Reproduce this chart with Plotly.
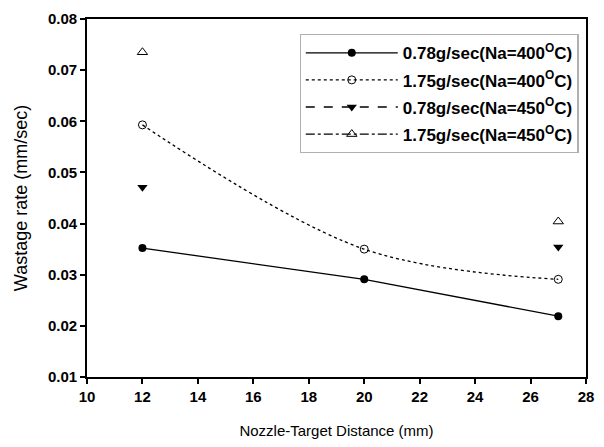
import plotly.graph_objects as go

x_a = [12, 20, 27]
y_078_400 = [0.0352, 0.0291, 0.0219]
y_175_400 = [0.0593, 0.0350, 0.0291]
x_b = [12, 27]
y_078_450 = [0.0471, 0.0354]
y_175_450 = [0.0735, 0.0404]

names = ["<b>0.78g/sec(Na=400<sup>O</sup>C)</b>", "<b>1.75g/sec(Na=400<sup>O</sup>C)</b>",
         "<b>0.78g/sec(Na=450<sup>O</sup>C)</b>", "<b>1.75g/sec(Na=450<sup>O</sup>C)</b>"]

FONT = "Liberation Sans, Arial"

fig = go.Figure()
fig.add_trace(go.Scatter(x=x_a, y=y_078_400, mode="lines+markers", name=names[0], legendgroup="a",
                         line=dict(color="black", width=1.3, dash="solid"),
                         marker=dict(symbol="circle", size=8, color="black")))
fig.add_trace(go.Scatter(x=x_a, y=y_175_400, mode="lines+markers", name=names[1], legendgroup="b",
                         line=dict(color="black", width=1.3, dash="dot", shape="spline", smoothing=1.0),
                         marker=dict(symbol="circle-open", size=8, color="black", line=dict(width=1))))
# markers only in plot for 450 series
fig.add_trace(go.Scatter(x=x_b, y=y_078_450, mode="markers", showlegend=False, legendgroup="c",
                         marker=dict(symbol="triangle-down", size=9, color="black")))
fig.add_trace(go.Scatter(x=x_b, y=y_175_450, mode="markers", showlegend=False, legendgroup="d",
                         marker=dict(symbol="triangle-up-open", size=9, color="black", line=dict(width=1))))
# legend-only entries
fig.add_trace(go.Scatter(x=[None], y=[None], mode="lines+markers", name=names[2], legendgroup="c",
                         line=dict(color="black", width=1.3, dash="dash"),
                         marker=dict(symbol="triangle-down", size=9, color="black")))
fig.add_trace(go.Scatter(x=[None], y=[None], mode="lines+markers", name=names[3], legendgroup="d",
                         line=dict(color="black", width=1.3, dash="dashdot"),
                         marker=dict(symbol="triangle-up-open", size=9, color="black", line=dict(width=1))))

axis_common = dict(showgrid=False, zeroline=False, showline=True, linecolor="black", linewidth=1.6,
                   mirror=True, ticks="outside", ticklen=5, tickcolor="black", tickwidth=1.5,
                   tickfont=dict(family=FONT, size=15, color="black", weight="bold"))

fig.update_layout(
    width=604, height=447,
    paper_bgcolor="white", plot_bgcolor="white",
    margin=dict(l=87, r=10, t=12, b=69),
    font=dict(family=FONT, color="black"),
    xaxis=dict(range=[10, 28], dtick=2, tick0=10,
               title=dict(text="Nozzle-Target Distance (mm)", font=dict(size=15), standoff=22),
               **axis_common),
    yaxis=dict(range=[0.01, 0.08], dtick=0.01, tick0=0.01, tickformat=".2f",
               title=dict(text="Wastage rate (mm/sec)", font=dict(size=18), standoff=16),
               **axis_common),
    legend=dict(x=0.426, y=0.958, xanchor="left", yanchor="top",
                bordercolor="#b0b0b0", borderwidth=1.2, bgcolor="white",
                font=dict(family=FONT, size=17, color="black"),
                itemwidth=92, traceorder="grouped", tracegroupgap=2),
)

fig.write_html("out.html", config={"displayModeBar": False},
               post_script="document.body.style.margin='0';")
